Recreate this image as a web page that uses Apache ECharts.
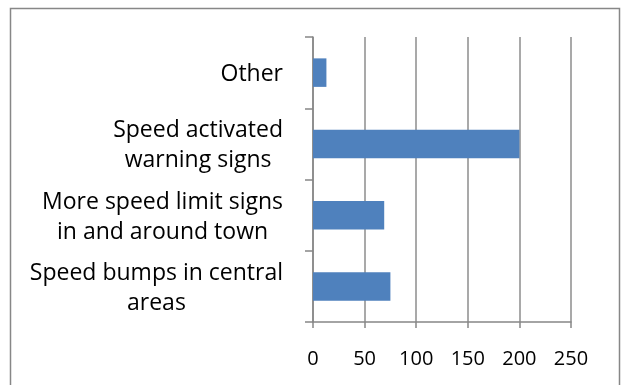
<!DOCTYPE html>
<html>
<head>
<meta charset="utf-8">
<script src="https://cdn.jsdelivr.net/npm/echarts@6/dist/echarts.min.js"></script>
<style>html,body{margin:0;padding:0;background:#fff}#c{width:626px;height:385px}</style>
</head>
<body>
<div id="c"></div>
<script>
const categories = [
  ['Speed bumps in central', 'areas'],
  ['More speed limit signs', 'in and around town'],
  ['Speed activated', 'warning signs'],
  ['Other']
];
const values = [75, 69, 200, 13];
const xTicks = [0, 50, 100, 150, 200, 250];

const FONT = 'Open Sans';
const chart = echarts.init(document.getElementById('c'), null, {renderer: 'canvas'});
chart.setOption({
  animation: false,
  backgroundColor: '#fff',
  graphic: [{
    type: 'rect', shape: {x: 10.5, y: 8.5, width: 609, height: 400},
    style: {fill: 'none', stroke: '#878787', lineWidth: 1.5}, silent: true
  }],
  grid: {left: 313, right: 55, top: 37, bottom: 63},
  xAxis: {
    type: 'value', min: xTicks[0], max: xTicks[xTicks.length - 1], interval: 50,
    axisLine: {show: true, lineStyle: {color: '#878787', width: 1.5}},
    axisTick: {show: true, length: 6, lineStyle: {color: '#878787', width: 1.5}},
    splitLine: {show: true, lineStyle: {color: '#8c8c8c', width: 1.5}},
    axisLabel: {color: '#000', fontFamily: FONT, fontSize: 20, margin: 27}
  },
  yAxis: {
    type: 'category',
    data: categories.map(c => c.join('\n')),
    axisLine: {show: true, lineStyle: {color: '#878787', width: 1.5}},
    axisTick: {show: true, length: 8, lineStyle: {color: '#878787', width: 1.5}},
    axisLabel: {
      color: '#000', fontFamily: FONT, fontSize: 23, margin: 30, lineHeight: 30,
      align: 'right', padding: [4, 0, 0, 0],
      formatter: v => v.split('\n').map(s => '{c|' + s + '}').join('\n'),
      rich: {c: {align: 'center', fontFamily: FONT, fontSize: 23, lineHeight: 30, color: '#000'}}
    }
  },
  series: [{
    type: 'bar', data: values, barWidth: '40%',
    itemStyle: {color: '#4F81BD'}
  }]
});
</script>
</body>
</html>
